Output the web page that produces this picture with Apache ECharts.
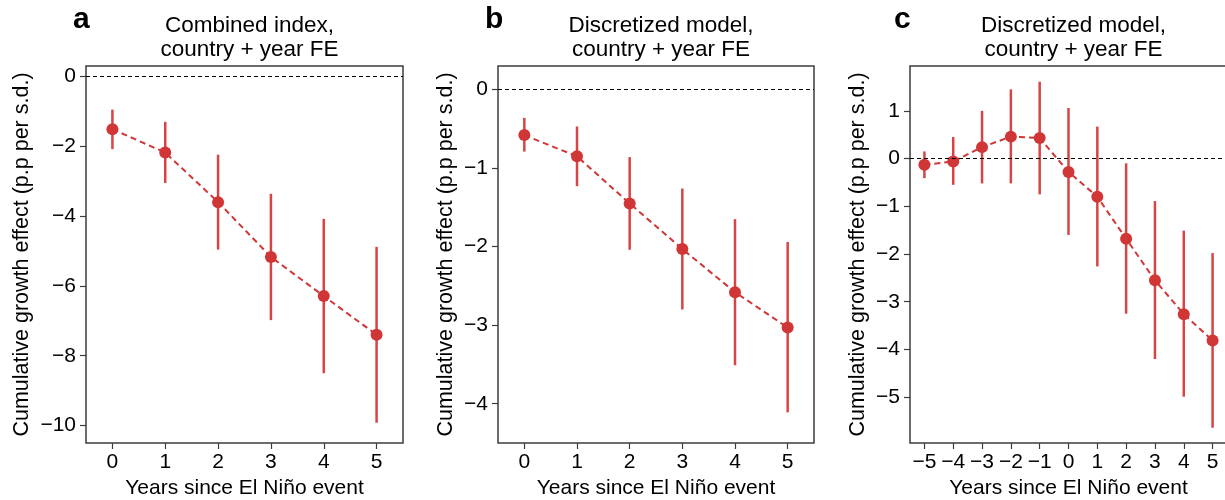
<!DOCTYPE html>
<html>
<head>
<meta charset="utf-8">
<script src="https://cdn.jsdelivr.net/npm/echarts@6/dist/echarts.min.js"></script>
<style>
html,body{margin:0;padding:0;background:#fff;}
#chart{width:1225px;height:500px;}
</style>
</head>
<body>
<div id="chart"></div>
<script>
// ---------- data ----------
const yearsAB = [0, 1, 2, 3, 4, 5];
const yearsC = [-5, -4, -3, -2, -1, 0, 1, 2, 3, 4, 5];

const estA = [-1.51, -2.18, -3.60, -5.17, -6.29, -7.40];
const loA  = [-2.08, -3.05, -4.96, -6.98, -8.50, -9.92];
const hiA  = [-0.95, -1.30, -2.24, -3.36, -4.08, -4.88];

const estB = [-0.58, -0.85, -1.45, -2.03, -2.58, -3.03];
const loB  = [-0.79, -1.23, -2.04, -2.80, -3.51, -4.11];
const hiB  = [-0.36, -0.47, -0.86, -1.26, -1.65, -1.94];

const estC = [-0.13, -0.06, 0.24, 0.46, 0.43, -0.28, -0.80, -1.68, -2.55, -3.26, -3.81];
const loC  = [-0.41, -0.55, -0.52, -0.52, -0.75, -1.60, -2.26, -3.25, -4.20, -4.99, -5.64];
const hiC  = [0.15, 0.45, 1.00, 1.45, 1.61, 1.06, 0.67, -0.10, -0.89, -1.51, -1.98];

const yTicksA = [0, -2, -4, -6, -8, -10];
const yTicksB = [0, -1, -2, -3, -4];
const yTicksC = [1, 0, -1, -2, -3, -4, -5];

const titles = ['Combined index,\ncountry + year FE', 'Discretized model,\ncountry + year FE', 'Discretized model,\ncountry + year FE'];
const letters = ['a', 'b', 'c'];
const yName = 'Cumulative growth effect (p.p per s.d.)';
const xName = 'Years since El Niño event';

// ---------- styling ----------
const FONT = '"Liberation Sans", Arial, sans-serif';
const RED = '#d03636';
const BAR = '#d84444';
const SPINE = '#3c3c3c';
const FS = 21;
const fmt = v => (Number(v) < 0 ? '\u2212' + Math.abs(Number(v)) : String(v));

const panels = [
  {cats: yearsAB, est: estA, lo: loA, hi: hiA, ticks: yTicksA, min: -10.5, max: 0.3, left: 86, width: 317, nameGap: 53, letterX: 68},
  {cats: yearsAB, est: estB, lo: loB, hi: hiB, ticks: yTicksB, min: -4.5, max: 0.3, left: 498, width: 316, nameGap: 41, letterX: 480},
  {cats: yearsC, est: estC, lo: loC, hi: hiC, ticks: yTicksC, min: -5.96, max: 1.94, left: 910, width: 317, nameGap: 41, letterX: 889}
];

const grid = [], xAxis = [], yAxis = [], series = [], title = [];

panels.forEach((p, i) => {
  grid.push({left: p.left, top: 66, width: p.width, height: 377, show: true,
    borderColor: SPINE, borderWidth: 1.5, backgroundColor: 'transparent',
    containLabel: false, outerBoundsMode: 'none'});
  xAxis.push({type: 'category', gridIndex: i, data: p.cats.map(String), boundaryGap: true,
    axisLine: {show: false, onZero: false},
    axisTick: {show: true, alignWithLabel: true, inside: false, length: 6, lineStyle: {color: SPINE, width: 1.2}},
    axisLabel: {color: '#000', fontSize: FS, fontFamily: FONT, margin: 9, formatter: fmt, interval: 0},
    splitLine: {show: false},
    name: xName, nameLocation: 'middle', nameGap: 34,
    nameTextStyle: {color: '#000', fontSize: FS, fontFamily: FONT}});
  yAxis.push({type: 'value', gridIndex: i, min: p.min, max: p.max,
    axisLine: {show: false, onZero: false},
    axisTick: {show: true, inside: false, length: 6, customValues: p.ticks, lineStyle: {color: SPINE, width: 1.2}},
    axisLabel: {color: '#000', fontSize: FS, fontFamily: FONT, margin: 10, customValues: p.ticks, formatter: fmt},
    splitLine: {show: false},
    name: yName, nameLocation: 'middle', nameRotate: 90, nameGap: p.nameGap,
    nameTextStyle: {color: '#000', fontSize: 21.5, fontFamily: FONT}});

  // error bars
  series.push({type: 'custom', xAxisIndex: i, yAxisIndex: i, z: 2,
    data: p.cats.map((c, k) => [k, p.lo[k], p.hi[k]]),
    encode: {x: 0, y: [1, 2]},
    renderItem: (params, api) => {
      const a = api.coord([api.value(0), api.value(1)]);
      const b = api.coord([api.value(0), api.value(2)]);
      return {type: 'line', shape: {x1: a[0], y1: a[1], x2: b[0], y2: b[1]},
        style: {stroke: BAR, lineWidth: 2.5}};
    },
    silent: true});

  // estimates
  series.push({type: 'line', xAxisIndex: i, yAxisIndex: i, z: 3,
    data: p.est.map((v, k) => [k, v]),
    symbol: 'circle', symbolSize: 12, showSymbol: true,
    itemStyle: {color: RED},
    lineStyle: {color: RED, width: 2, type: [6, 4]},
    markLine: {silent: true, symbol: 'none', label: {show: false},
      lineStyle: {color: '#000', width: 1, type: [4, 3]},
      data: [{yAxis: 0}]},
    animation: false});

  title.push({text: titles[i], left: p.left + p.width / 2, top: 9, textAlign: 'center',
    textStyle: {fontSize: 22.5, fontWeight: 'normal', color: '#000', fontFamily: FONT, lineHeight: 24}});
  title.push({text: letters[i], left: p.letterX, top: 0,
    textStyle: {fontSize: 30, fontWeight: 'bold', color: '#000', fontFamily: FONT}});
});

const chart = echarts.init(document.getElementById('chart'), null, {renderer: 'canvas'});
chart.setOption({animation: false, backgroundColor: '#fff', title, grid, xAxis, yAxis, series});
</script>
</body>
</html>
